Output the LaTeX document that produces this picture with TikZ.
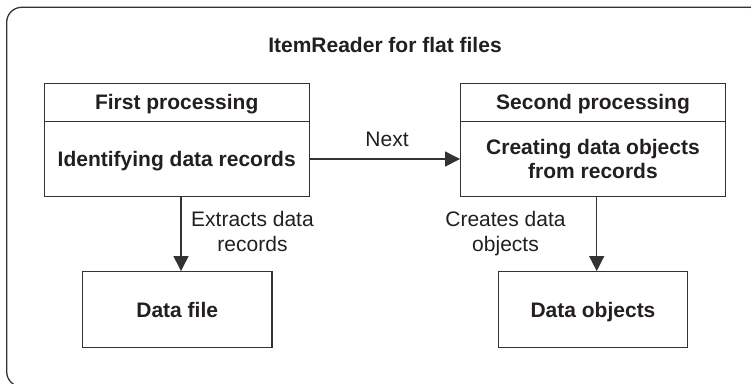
\documentclass[tikz,border=0pt]{standalone}
\usepackage{fontspec}
\setmainfont{Liberation Sans}
\usetikzlibrary{arrows.meta}
\definecolor{ink}{HTML}{231F20}
\definecolor{linec}{HTML}{333333}
\begin{document}
\begin{tikzpicture}[x=1pt,y=-1pt,
  every node/.style={text=ink},
  box/.style={draw=linec, line width=1.3pt, inner sep=0pt, font=\fontsize{21}{24.7}\selectfont\bfseries, align=center},
  single/.style={text height=15pt, text depth=0pt},
  lbl/.style={inner sep=0pt, font=\fontsize{21}{25}\selectfont, align=center},
  arr/.style={draw=linec, line width=1.3pt, -{Triangle[length=15pt,width=15pt]}, shorten >=0pt}
]
\useasboundingbox (0,0) rectangle (751,383);
\begin{scope}
  \clip (0,0) rectangle (751,383);
  \draw[linec, line width=1.3pt, rounded corners=15pt] (6.7,7.3) rectangle (765,386.7);
\end{scope}
\node[inner sep=0pt, anchor=base, font=\fontsize{21}{25}\selectfont\bfseries] (title) at (385,52.5) {ItemReader for flat files};
% left composite box
\node[box, single, minimum width=265pt, minimum height=38pt] (h1) at (176.7,102.3) {First processing};
\node[box, single, minimum width=265pt, minimum height=75.4pt] (b1) at (176.7,159) {Identifying data records};
% right composite box
\node[box, single, minimum width=264.6pt, minimum height=38pt] (h2) at (593,102.3) {Second processing};
\node[box, minimum width=264.6pt, minimum height=75.4pt] (b2) at (593,159) {Creating data objects\\from records};
% bottom boxes
\node[box, single, minimum width=189.6pt, minimum height=76pt] (df) at (177.2,309.7) {Data file};
\node[box, single, minimum width=188.7pt, minimum height=76pt] (do) at (593,309.7) {Data objects};
% connectors
\draw[arr] (b1.east) -- (b2.west);
\draw[arr] (b1.south -| 181,0) -- (df.north -| 181,0);
\draw[arr] (b2.south -| 596.7,0) -- (do.north -| 596.7,0);
% labels
\node[lbl, anchor=base] (lnext) at (387,146.5) {Next};
\node[lbl, anchor=base] (lext) at (252.5,251.7) {Extracts data\\records};
\node[lbl, anchor=base] (lcre) at (505.5,251.7) {Creates data\\objects};
\end{tikzpicture}
\end{document}
